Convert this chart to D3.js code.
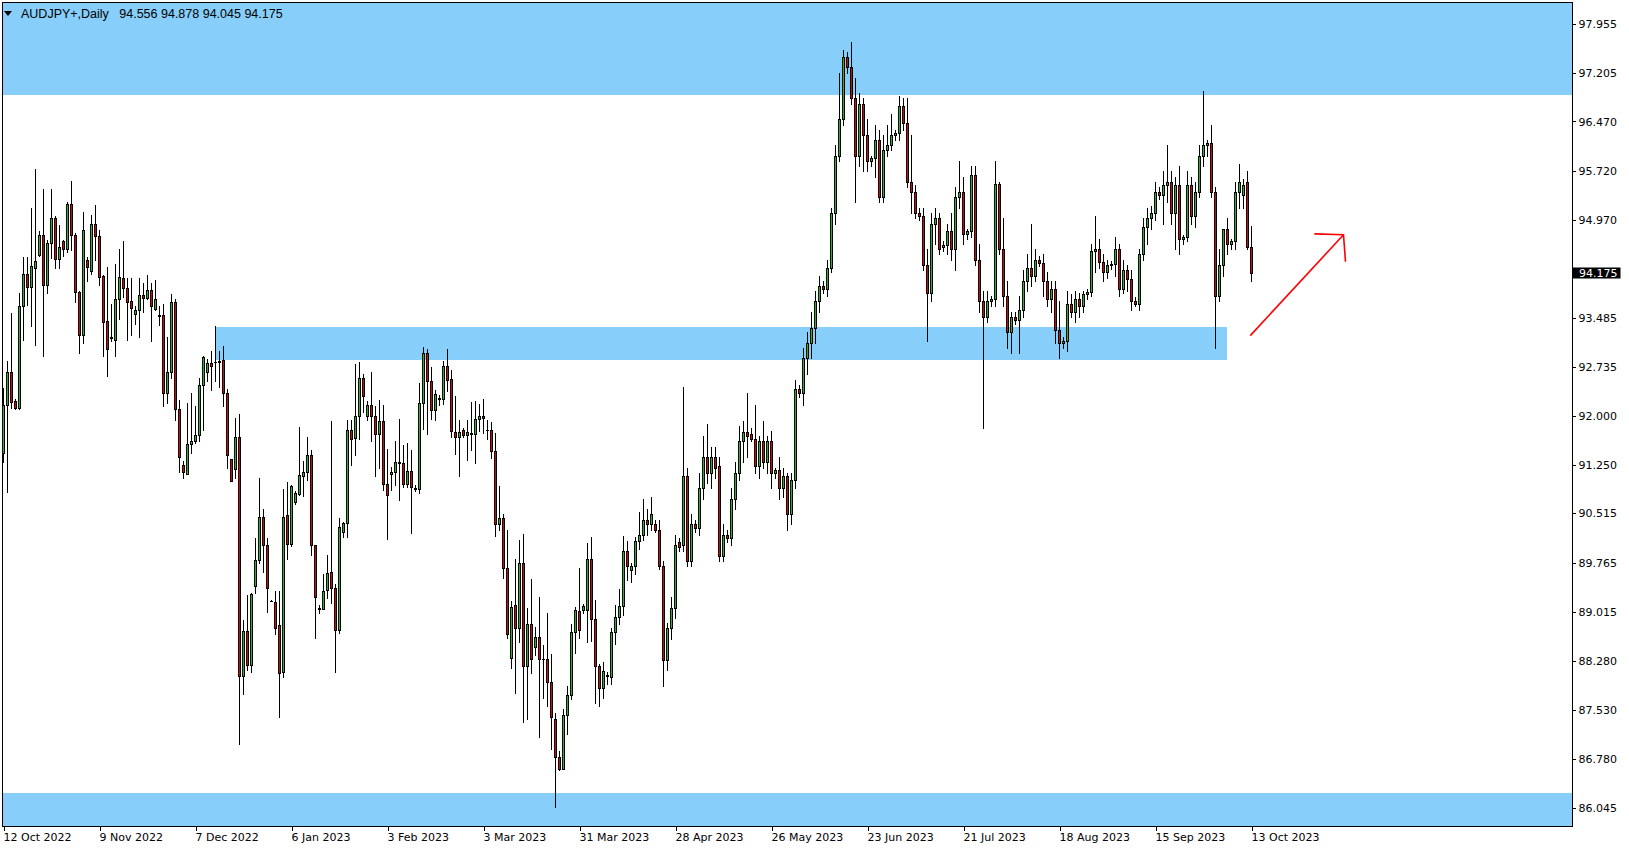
<!DOCTYPE html>
<html><head><meta charset="utf-8">
<script src="https://cdn.jsdelivr.net/npm/d3@7"></script>
<style>body{margin:0;background:#fff;overflow:hidden}</style>
</head><body>
<svg id="c" width="1629" height="850"></svg>
<script>
const open=[91.44,92.17,92.66,92.22,92.11,93.67,94.15,93.96,94.24,94.44,94.74,93.99,94.62,95.00,94.38,94.65,94.53,95.22,94.74,93.88,93.22,94.37,94.20,94.91,94.73,94.12,93.44,93.19,93.15,93.77,94.09,93.94,93.74,93.54,93.60,93.83,93.79,93.91,93.62,93.53,
93.53,92.34,92.66,93.72,92.10,91.25,91.12,91.57,91.61,91.70,92.47,92.66,92.80,92.81,92.81,92.85,92.34,91.34,91.19,91.67,88.05,88.73,88.22,89.41,89.81,90.46,90.04,89.19,89.17,88.82,
88.10,90.49,90.05,90.69,90.81,91.08,91.14,91.40,90.03,89.08,89.07,89.35,89.62,89.39,88.75,90.23,90.37,91.79,91.66,92.00,92.57,92.00,92.17,92.00,91.72,91.92,90.97,91.12,91.14,91.29,
91.28,90.96,91.16,90.90,90.89,92.19,92.95,92.52,92.09,92.26,92.26,92.76,92.56,91.76,91.67,91.79,91.70,91.72,91.72,91.95,92.00,91.79,91.79,91.47,90.35,90.44,89.69,88.32,89.12,88.77,
89.76,88.20,88.83,88.48,88.64,88.31,88.30,87.95,87.40,86.81,86.64,87.46,87.76,88.71,89.03,89.05,89.05,89.82,88.91,88.20,87.86,88.06,88.03,88.71,88.94,89.11,89.95,89.66,89.72,90.10,
90.19,90.42,90.35,90.35,90.27,89.71,88.29,88.77,89.08,90.08,90.03,91.09,89.79,90.35,90.30,90.90,91.37,91.13,91.37,91.24,89.87,90.19,90.14,90.74,91.13,91.61,91.76,91.72,91.65,91.24,
91.61,91.29,91.61,91.13,91.18,90.90,91.09,90.50,91.02,92.40,92.35,92.87,93.11,93.34,93.74,93.97,93.93,94.24,95.08,95.95,96.50,97.45,97.29,96.82,95.95,96.74,96.26,95.87,95.92,96.19,
95.32,96.03,96.11,96.26,96.30,96.71,96.45,95.55,95.40,95.08,95.03,94.29,93.86,94.92,95.00,94.56,94.59,94.81,94.53,95.32,95.40,94.76,94.81,95.66,94.37,93.74,93.50,93.74,93.77,95.52,
94.53,93.82,93.27,93.50,93.45,93.61,94.05,94.24,94.13,94.37,94.32,94.05,93.77,93.93,93.30,93.11,93.14,93.70,93.58,93.77,93.66,93.85,93.88,94.50,94.53,94.34,94.18,94.29,94.30,94.53,
93.93,94.21,94.08,93.74,93.70,94.45,94.87,95.00,95.08,95.40,95.35,95.51,95.55,95.08,95.51,94.68,94.72,95.51,95.03,95.40,95.95,96.11,96.14,95.40,93.82,94.29,94.84,94.61,94.65,95.40,
95.35,95.55,94.556];
const high=[92.42,92.83,93.56,92.26,93.86,94.41,94.41,95.15,95.75,94.81,95.44,94.67,95.44,95.03,94.90,94.67,95.25,95.57,94.78,93.89,95.09,94.41,95.05,95.20,94.82,94.14,94.26,93.69,94.30,94.53,94.65,94.09,94.09,93.66,94.09,94.02,94.14,94.01,94.06,93.66,
93.69,93.20,93.85,93.77,92.24,91.31,92.20,92.34,92.14,92.58,92.91,92.86,92.98,93.36,92.99,93.06,92.41,91.34,91.96,92.03,88.90,89.28,89.30,90.14,91.06,90.59,90.14,89.20,89.33,89.33,
90.89,90.99,90.95,90.85,91.83,91.31,91.67,91.48,90.04,89.12,89.60,89.89,91.92,89.44,90.44,90.38,91.93,91.93,92.79,92.82,92.63,92.22,92.66,92.14,92.24,92.16,91.49,91.22,91.62,91.95,
91.56,91.58,91.48,90.95,92.50,93.05,93.01,92.74,92.39,92.32,92.83,93.01,92.69,92.30,91.93,91.81,91.93,92.21,92.22,92.18,92.25,91.93,91.90,91.73,90.93,90.50,90.26,89.19,89.83,90.11,
90.20,89.08,89.52,88.79,89.24,88.52,89.01,88.38,87.49,86.91,87.54,87.89,88.84,89.10,89.69,89.14,90.07,90.16,89.20,88.23,88.26,88.10,88.77,89.12,89.37,90.18,90.10,89.76,90.15,90.53,
90.74,90.58,90.77,90.42,90.42,89.79,88.85,89.24,90.19,90.14,92.44,91.21,90.50,90.42,91.13,91.69,91.88,91.53,91.53,91.37,90.35,90.27,90.90,91.29,91.84,91.92,92.35,91.81,92.16,91.69,
91.92,91.69,91.77,91.21,91.37,91.21,91.13,91.13,92.55,92.47,93.03,93.27,93.58,93.90,94.13,94.05,94.37,95.16,96.11,97.21,97.56,97.53,97.68,97.13,96.90,96.82,96.50,95.95,96.42,96.34,
96.26,96.42,96.58,96.34,96.85,96.82,96.82,96.26,95.51,95.16,95.16,94.53,95.08,95.16,95.08,94.65,94.92,95.08,95.47,95.87,95.63,94.84,95.79,95.79,94.61,93.90,93.90,93.82,95.87,95.55,
95.00,94.05,93.58,93.58,93.82,94.21,94.45,94.92,94.53,94.43,94.45,94.18,94.05,94.05,93.74,93.19,93.90,93.85,93.90,93.86,93.90,93.93,94.61,95.03,94.68,94.45,94.37,94.35,94.72,94.61,
94.37,94.29,94.21,93.80,94.53,95.00,95.16,95.19,95.55,95.47,95.71,96.11,95.71,95.63,95.79,94.75,95.71,95.63,95.55,96.11,96.93,96.19,96.42,95.47,94.53,94.84,95.00,94.68,95.55,95.82,
95.60,95.71,94.878];
const low=[91.29,90.84,92.11,92.10,92.10,93.15,93.68,93.37,93.08,94.42,92.91,93.87,94.39,94.24,94.24,94.43,94.49,94.52,93.73,92.96,93.10,94.05,94.16,94.37,93.99,92.90,92.60,93.13,92.91,93.47,93.81,93.15,93.23,93.39,93.19,93.57,93.78,93.13,93.61,93.38,
92.14,92.19,92.57,91.93,91.14,91.05,91.11,91.43,91.58,91.62,91.78,92.52,92.39,92.53,92.43,92.15,91.21,91.01,91.05,87.02,87.77,88.14,88.11,89.30,89.77,89.62,89.02,89.18,88.68,87.42,
88.03,89.82,90.02,90.66,90.80,90.78,91.02,89.88,88.63,89.01,89.06,89.23,89.16,88.11,88.70,90.15,90.16,91.25,91.40,91.64,92.06,91.94,91.61,91.08,91.21,90.87,90.13,90.87,90.95,90.72,
90.91,90.92,90.22,90.86,90.82,91.80,91.72,91.95,91.93,92.17,92.18,92.37,91.68,91.42,91.09,91.68,91.32,91.48,91.28,91.77,91.74,91.65,91.36,90.18,90.26,89.54,88.63,88.17,87.79,88.56,
87.35,87.40,88.09,88.37,87.12,87.71,87.59,86.93,86.06,86.62,86.63,87.16,87.69,88.39,88.63,89.00,88.56,88.58,87.64,87.59,87.71,87.92,87.92,88.53,88.83,88.98,89.50,89.47,89.59,89.97,
90.11,90.19,90.27,90.23,89.67,87.90,88.13,88.61,88.92,89.95,89.95,89.71,89.71,90.23,90.19,90.74,90.98,90.90,91.05,89.79,89.79,90.08,90.03,90.58,91.02,91.29,91.37,91.61,91.13,91.05,
91.21,91.13,90.90,91.05,90.74,90.77,90.27,90.35,90.90,92.29,92.16,92.63,92.87,93.11,93.58,93.86,93.82,94.18,94.92,95.87,96.42,97.21,96.74,95.24,95.79,95.71,95.71,95.79,95.63,95.24,
95.24,95.95,96.03,96.19,96.19,96.34,95.47,95.08,95.00,94.97,94.21,93.14,93.74,94.61,94.45,94.50,94.45,94.37,94.21,95.16,94.61,94.68,94.72,94.29,93.58,91.81,93.42,93.66,93.66,94.45,
93.66,93.03,92.95,93.39,92.95,93.50,93.90,93.97,94.05,94.27,93.82,93.66,93.58,93.11,92.87,93.03,92.98,93.50,93.42,93.50,93.58,93.77,93.82,94.18,94.24,94.05,94.09,94.23,94.13,93.82,
93.86,93.90,93.61,93.66,93.61,94.37,94.61,94.84,94.97,95.29,94.92,95.24,94.92,94.53,94.45,94.61,94.65,94.92,94.87,95.32,95.79,95.95,95.32,93.03,93.74,94.13,94.45,94.53,94.53,95.16,
95.16,94.53,94.045];
const close=[92.17,92.66,92.21,92.11,93.67,94.15,93.96,94.27,94.35,94.74,93.99,94.62,95.00,94.38,94.57,94.53,95.22,94.74,93.88,93.22,94.82,94.26,94.91,94.73,94.10,93.43,93.02,93.18,93.77,94.10,93.94,93.73,93.64,93.60,93.83,93.79,93.91,93.66,93.78,93.52,
92.34,92.66,93.72,92.10,91.38,91.14,91.57,91.61,91.71,92.47,92.89,92.80,92.76,92.82,92.83,92.34,91.41,91.01,91.67,88.05,88.73,88.22,89.29,89.81,90.46,90.04,89.38,89.19,88.77,88.09,
90.46,90.05,90.93,90.83,91.10,91.15,91.40,90.03,89.24,89.07,89.33,89.61,89.39,88.75,90.31,90.37,91.79,91.64,92.00,92.58,92.30,92.17,91.99,91.72,91.92,90.97,90.79,91.15,91.29,91.28,
90.96,91.16,90.92,90.88,92.19,92.95,92.52,92.09,92.33,92.27,92.76,92.54,91.77,91.67,91.76,91.70,91.75,91.73,91.95,91.99,91.96,91.78,91.47,90.35,90.44,89.69,88.69,89.10,88.77,89.76,
88.20,88.83,88.30,88.64,88.30,88.30,87.95,87.42,86.82,86.63,87.46,87.76,88.71,89.05,88.75,89.11,89.82,88.91,88.20,87.86,88.12,88.05,88.71,88.94,89.11,89.95,89.72,89.72,90.10,90.19,
90.42,90.35,90.50,90.27,89.71,88.29,88.77,89.08,90.03,90.01,91.09,89.79,90.35,90.30,90.90,91.37,91.13,91.37,91.21,89.87,90.19,90.14,90.74,91.13,91.61,91.76,91.69,91.65,91.24,91.61,
91.29,91.61,91.13,91.18,90.90,91.09,90.50,91.02,92.40,92.35,92.87,93.11,93.34,93.74,93.97,93.93,94.24,95.08,95.95,96.50,97.45,97.29,96.82,95.95,96.74,96.26,95.87,95.92,96.19,95.32,
96.03,96.11,96.26,96.30,96.71,96.45,95.55,95.40,95.08,95.03,94.29,93.86,94.92,95.00,94.53,94.59,94.81,94.53,95.32,95.40,94.76,94.81,95.66,94.37,93.74,93.50,93.74,93.77,95.52,94.53,
93.82,93.27,93.50,93.45,93.61,94.05,94.24,94.13,94.37,94.32,94.05,93.77,93.93,93.30,93.11,93.14,93.70,93.58,93.77,93.66,93.85,93.88,94.50,94.53,94.34,94.18,94.29,94.30,94.53,93.93,
94.21,94.08,93.74,93.70,94.45,94.87,95.00,95.08,95.40,95.35,95.51,95.55,95.08,95.51,94.68,94.72,95.51,95.03,95.40,95.95,96.11,96.14,95.40,93.82,94.29,94.84,94.61,94.65,95.40,95.55,
95.51,94.56,94.175];

const tickIdx=[0,24,48,72,96,120,144,168,192,216,240,264,288,312];
const tickLabels=["12 Oct 2022","9 Nov 2022","7 Dec 2022","6 Jan 2023","3 Feb 2023","3 Mar 2023","31 Mar 2023","28 Apr 2023","26 May 2023","23 Jun 2023","21 Jul 2023","18 Aug 2023","15 Sep 2023","13 Oct 2023"];
const priceTicks=[97.955,97.205,96.470,95.720,94.970,93.485,92.735,92.000,91.250,90.515,89.765,89.015,88.280,87.530,86.780,86.045];
const lastPrice=94.175;
const symbolText="AUDJPY+,Daily";
const barValues=[94.556,94.878,94.045,94.175];
// zones: [fromBar, toBar, lowPrice, highPrice]
const zoneFrom=[-1,52.95,-1];
const zoneTo=[392,305.9,392];
const zoneLow=[96.877,92.847,85.767];
const zoneHigh=[98.285,93.35,86.273];
// arrow: bar index & price
const arrowBar=[311.7,335.0];
const arrowPrice=[93.217,94.748];
const arrowHeadBar=[327.7,335.5];
const arrowHeadPrice=[94.763,94.338];

const svg=d3.select("#c");
const x=d3.scaleLinear().domain([0,392]).range([3.5,1571.5]);
const y=d3.scaleLinear().domain([85.767,98.285]).range([826,2]);
const L=2.5,R=1572.5,T=2.5,B=826.5;

// zones
const zg=svg.append("g").attr("shape-rendering","crispEdges");
zoneLow.forEach((lo,i)=>{
  const x0=Math.max(L,x(zoneFrom[i])), x1=Math.min(R,x(zoneTo[i]));
  const y0=Math.max(T,y(zoneHigh[i])), y1=Math.min(B,y(lo));
  zg.append("rect").attr("x",x0).attr("y",y0).attr("width",x1-x0).attr("height",y1-y0).attr("fill","#87cefa");
});

// candles
const data=open.map((o,i)=>({i,o,h:high[i],l:low[i],c:close[i]}));
const cg=svg.append("g").attr("shape-rendering","crispEdges");
const GREEN="#00d000", RED="#e00000";
data.forEach(d=>{
  const cx=x(d.i);
  cg.append("line").attr("x1",cx).attr("x2",cx).attr("y1",Math.round(y(d.h))).attr("y2",Math.round(y(d.l))+1).attr("stroke","#000");
  const yt=Math.round(y(Math.max(d.o,d.c)))+0.5, yb=Math.round(y(Math.min(d.o,d.c)))+0.5;
  if(yb-yt<1){
    cg.append("line").attr("x1",cx-1.5).attr("x2",cx+1.5).attr("y1",yt).attr("y2",yt).attr("stroke","#000");
  } else {
    cg.append("rect").attr("x",cx-1).attr("y",yt).attr("width",2).attr("height",yb-yt)
      .attr("fill",d.c>=d.o?GREEN:RED).attr("stroke","#000");
  }
});

// arrow
const ag=svg.append("g").attr("stroke","#ff0000").attr("stroke-width",1.6).attr("fill","none");
ag.append("line").attr("x1",x(arrowBar[0])).attr("y1",y(arrowPrice[0])).attr("x2",x(arrowBar[1])).attr("y2",y(arrowPrice[1]));
ag.append("polyline").attr("points",[[x(arrowHeadBar[0]),y(arrowHeadPrice[0])],[x(arrowBar[1]),y(arrowPrice[1])],[x(arrowHeadBar[1]),y(arrowHeadPrice[1])]].map(p=>p.join(",")).join(" "));

// frame
svg.append("rect").attr("x",L).attr("y",T).attr("width",R-L).attr("height",B-T).attr("fill","none").attr("stroke","#000").attr("shape-rendering","crispEdges");

// right axis
const ya=svg.append("g").attr("transform",`translate(${R},0)`)
  .call(d3.axisRight(y).tickValues(priceTicks).tickSize(3).tickPadding(3).tickFormat(d3.format(".3f")));
ya.select(".domain").remove();
ya.selectAll("line").attr("stroke","#000").attr("shape-rendering","crispEdges");
ya.selectAll("text").attr("font-family","DejaVu Sans").attr("font-size",11).attr("fill","#000");

// last price box
const ly=y(lastPrice);
svg.append("rect").attr("x",R).attr("y",Math.round(ly)-5.5).attr("width",48).attr("height",11).attr("fill","#000");
svg.append("text").attr("x",R+6.5).attr("y",ly).attr("dy","0.36em").attr("font-family","DejaVu Sans").attr("font-size",11).attr("fill","#fff").text(d3.format(".3f")(lastPrice));

// bottom axis
const xa=svg.append("g").attr("transform",`translate(0,${B})`)
  .call(d3.axisBottom(x).tickValues(tickIdx).tickSize(4).tickPadding(3).tickFormat((d,i)=>tickLabels[i]));
xa.select(".domain").remove();
xa.selectAll("line").attr("stroke","#000").attr("shape-rendering","crispEdges");
xa.selectAll("text").attr("text-anchor","start").attr("x",-0.5).attr("font-family","DejaVu Sans").attr("font-size",11).attr("fill","#000");

// header
svg.append("path").attr("d","M4,11L12,11L8,16Z").attr("fill","#000");
svg.append("text").attr("x",21).attr("y",18).attr("font-family","Liberation Sans").attr("font-size",12.5).attr("fill","#000")
  .attr("xml:space","preserve").text(symbolText+"   "+barValues.map(d3.format(".3f")).join(" "));
</script>
</body></html>
